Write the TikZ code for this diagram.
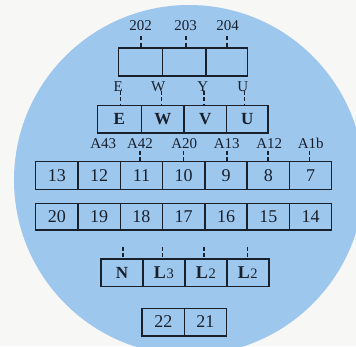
\documentclass[tikz,border=0pt]{standalone}
\usepackage{fontspec}
\setmainfont{Liberation Serif}
\definecolor{ink}{RGB}{24,32,44}
\definecolor{disc}{RGB}{158,199,238}
\definecolor{paper}{RGB}{247,247,245}
\begin{document}
\begin{tikzpicture}[x=1pt,y=-1pt,
  cell/.style={draw=ink, line width=1.5pt, minimum height=27.5pt, inner sep=0pt, text=ink,
    font=\fontsize{18}{20}\selectfont, anchor=center},
  bcell/.style={cell, font=\fontsize{17}{20}\selectfont\bfseries},
  lbl/.style={inner sep=0pt, text=ink, anchor=base, font=\fontsize{15}{17}\selectfont},
  tick/.style={draw=ink, line width=1.6pt, dash pattern=on 4pt off 2.5pt}]
\useasboundingbox (0,0) rectangle (356,346);
\begin{scope}
\clip (0,0) rectangle (356,346);
\fill[paper] (0,0) rectangle (356,346);
\fill[disc] (189,180) circle[radius=175];
\end{scope}
% row 1
\node[cell, minimum width=44.4pt, minimum height=28.3pt] (r1a) at (140.5,61.9) {};
\node[cell, minimum width=43.3pt, minimum height=28.3pt] (r1b) at (184.35,61.9) {};
\node[cell, minimum width=41.3pt, minimum height=28.3pt] (r1c) at (226.65,61.9) {};
\node[lbl] (l202) at (140.5,30) {202};
\node[lbl] (l203) at (185.5,30) {203};
\node[lbl] (l204) at (227.5,30) {204};
\coordinate (t202) at (141,36);
\coordinate (t203) at (186,36);
\coordinate (t204) at (227,36);
\draw[tick] (t202) -- (t202 |- r1a.north);
\draw[tick] (t203) -- (t203 |- r1b.north);
\draw[tick] (t204) -- (t204 |- r1c.north);
% row 2
\node[bcell, minimum width=44.2pt] (cE) at (119.4,119) {E};
\node[bcell, minimum width=42.5pt] (cW) at (162.75,119) {W};
\node[bcell, minimum width=42.5pt] (cV) at (205.25,119) {V};
\node[bcell, minimum width=41.5pt] (cU) at (247.25,119) {U};
\node[lbl] (lE) at (118.3,91) {E};
\node[lbl] (lW) at (158.3,91) {W};
\node[lbl] (lY) at (202.7,91) {Y};
\node[lbl] (lU) at (242.7,91) {U};
\coordinate (tE) at (120.5,90.5);
\coordinate (tW) at (161.5,90.5);
\coordinate (tY) at (204,90.5);
\coordinate (tU) at (244.5,90.5);
\draw[tick] (tE) -- (tE |- cE.north);
\draw[tick] (tW) -- (tW |- cW.north);
\draw[tick] (tY) -- (tY |- cV.north);
\draw[tick] (tU) -- (tU |- cU.north);
% row 3
\foreach \t [count=\i from 0] in {13,12,11,10,9,8,7}
  \node[cell, minimum width=42.3pt, minimum height=27.6pt] (a\t) at (56.84+42.29*\i,175.5) {\t};
\node[lbl] (lA43) at (103.3,148) {A43};
\node[lbl] (lA42) at (140,148) {A42};
\node[lbl] (lA20) at (184.3,148) {A20};
\node[lbl] (lA13) at (226.7,148) {A13};
\node[lbl] (lA12) at (269.3,148) {A12};
\node[lbl] (lA1b) at (310.7,148) {A1b};
\coordinate (tA42) at (140,150.7);
\coordinate (tA20) at (183.5,150.7);
\coordinate (tA13) at (226.7,150.7);
\coordinate (tA12) at (268,150.7);
\coordinate (tA1b) at (309.5,150.7);
\draw[tick] (tA42) -- (tA42 |- a11.north);
\draw[tick] (tA20) -- (tA20 |- a10.north);
\draw[tick] (tA13) -- (tA13 |- a9.north);
\draw[tick] (tA12) -- (tA12 |- a8.north);
\draw[tick] (tA1b) -- (tA1b |- a7.north);
% row 4
\foreach \t [count=\i from 0] in {20,19,18,17,16,15,14}
  \node[cell, minimum width=42.3pt, minimum height=26.7pt] (b\t) at (56.84+42.29*\i,216.7) {\t};
% row 5
\node[bcell, minimum width=41.95pt] (cN) at (121.97,272.7) {N};
\node[cell, minimum width=41.95pt] (cL3) at (163.9,272.7) {\textbf{L}\kern0.6pt{\fontsize{14.5}{15}\selectfont 3}};
\node[cell, minimum width=41.95pt] (cL2a) at (205.9,272.7) {\textbf{L}\kern0.6pt{\fontsize{14.5}{15}\selectfont 2}};
\node[cell, minimum width=41.95pt] (cL2b) at (247.8,272.7) {\textbf{L}\kern0.6pt{\fontsize{14.5}{15}\selectfont 2}};
\coordinate (tN) at (122.7,246.7);
\coordinate (tL3) at (162.3,246.7);
\coordinate (tL2a) at (204,246.7);
\coordinate (tL2b) at (247.3,246.7);
\draw[tick] (tN) -- (tN |- cN.north);
\draw[tick] (tL3) -- (tL3 |- cL3.north);
\draw[tick] (tL2a) -- (tL2a |- cL2a.north);
\draw[tick] (tL2b) -- (tL2b |- cL2b.north);
% row 6
\node[cell, minimum width=42.1pt] (c22) at (163.25,322) {22};
\node[cell, minimum width=42.1pt] (c21) at (205.35,322) {21};
\end{tikzpicture}
\end{document}
